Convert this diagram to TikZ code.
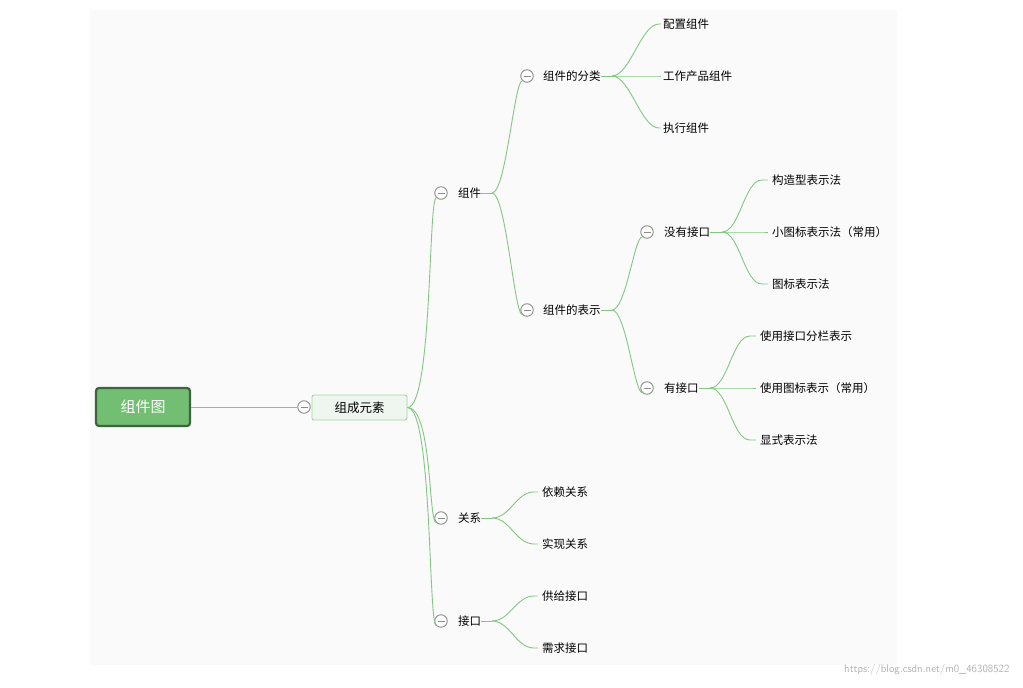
\documentclass[tikz,border=0pt]{standalone}
\usepackage{fontspec}
\newfontfamily\cjk{Noto Sans CJK SC}
\begin{document}
\begin{tikzpicture}[x=1pt,y=-1pt,font=\cjk\fontsize{11.5}{13}\selectfont,
  lbl/.style={anchor=west,inner sep=0pt},
  col/.style={circle,draw=black!45,fill=white,line width=0.9pt,minimum size=12.5pt,inner sep=0pt,
    path picture={\draw[black!45,line width=0.9pt] ([xshift=-3.5pt]path picture bounding box.center)--([xshift=3.5pt]path picture bounding box.center);}},
  br/.style={draw={rgb,255:red,130;green,200;blue,130},line width=0.9pt}]
\useasboundingbox (0,0) rectangle (1023,688);
\fill[white] (0,0) rectangle (1023,688);
\fill[black!2] (90,10) rectangle (897,665);
\node[draw={rgb,255:red,62;green,100;blue,62},line width=2.2pt,fill={rgb,255:red,114;green,190;blue,114},rounded corners=3pt,minimum width=94pt,minimum height=38pt,text=white,font=\cjk\fontsize{15}{17}\selectfont] (root) at (143,407) {组件图};
\node[draw={rgb,255:red,160;green,212;blue,160},line width=0.9pt,fill={rgb,255:red,239;green,246;blue,239},rounded corners=2pt,minimum width=95pt,minimum height=25pt,font=\cjk\fontsize{12.5}{14}\selectfont] (zc) at (359.5,407.5) {组成元素};
\node[col] (czc) at (304,407) {};
\draw[br] (root.east) -- (czc.west);
% level 2
\node[col] (c1) at (441,193) {}; \node[lbl] (t1) at (458,193) {组件};
\node[col] (c2) at (441,518) {}; \node[lbl] (t2) at (458,518) {关系};
\node[col] (c3) at (441,621) {}; \node[lbl] (t3) at (458,621) {接口};
\coordinate (z) at (zc.east);
\foreach \c in {c1,c2,c3} \draw[br] (z) .. controls +(25,0) and +(-8,0) .. (\c.south west);
% 组件
\coordinate (f1) at (492,193);
\node[col] (c11) at (527,76) {}; \node[lbl] (t11) at (543,76) {组件的分类};
\node[col] (c12) at (527,310) {}; \node[lbl] (t12) at (543,310) {组件的表示};
\draw[br] (t1.east) -- (f1);
\foreach \c in {c11,c12} \draw[br] (f1) .. controls +(14,0) and +(-8,0) .. (\c.south west);
% 分类
\coordinate (f11) at (612,76);
\draw[br] (t11.east) -- (f11);
\foreach \y/\t in {24/配置组件,76/工作产品组件,128/执行组件}{
  \node[lbl] (l) at (663,\y) {\t};
  \draw[br] (f11) .. controls +(18,0) and +(-18,0) .. ([xshift=-4pt,yshift=-0pt]l.west) -- ([xshift=-2pt]l.west);}
% 表示
\coordinate (f12) at (612,310);
\draw[br] (t12.east) -- (f12);
\node[col] (c121) at (647,232) {}; \node[lbl] (t121) at (664,232) {没有接口};
\node[col] (c122) at (647,388) {}; \node[lbl] (t122) at (664,388) {有接口};
\foreach \c in {c121,c122} \draw[br] (f12) .. controls +(14,0) and +(-8,0) .. (\c.south west);
\coordinate (f121) at (722,232);
\draw[br] (t121.east) -- (f121);
\foreach \y/\t in {180/构造型表示法,232/小图标表示法（常用）,284/图标表示法}{
  \node[lbl] (l) at (772,\y) {\t};
  \draw[br] (f121) .. controls +(18,0) and +(-18,0) .. ([xshift=-10pt]l.west) -- ([xshift=-4pt]l.west);}
\coordinate (f122) at (710,388);
\draw[br] (t122.east) -- (f122);
\foreach \y/\t in {336/使用接口分栏表示,388/使用图标表示（常用）,440/显式表示法}{
  \node[lbl] (l) at (760,\y) {\t};
  \draw[br] (f122) .. controls +(18,0) and +(-18,0) .. ([xshift=-10pt]l.west) -- ([xshift=-4pt]l.west);}
% 关系
\coordinate (f2) at (492,518);
\draw[br] (t2.east) -- (f2);
\foreach \y/\t in {492/依赖关系,544/实现关系}{
  \node[lbl] (l) at (542,\y) {\t};
  \draw[br] (f2) .. controls +(18,0) and +(-18,0) .. ([xshift=-8pt]l.west) -- ([xshift=-4pt]l.west);}
% 接口
\coordinate (f3) at (492,621);
\draw[br] (t3.east) -- (f3);
\foreach \y/\t in {596/供给接口,648/需求接口}{
  \node[lbl] (l) at (542,\y) {\t};
  \draw[br] (f3) .. controls +(18,0) and +(-18,0) .. ([xshift=-8pt]l.west) -- ([xshift=-4pt]l.west);}
\node[anchor=east,text=black!30,font=\fontsize{11}{12}\selectfont\sffamily] (wm) at (1013,670) {https://blog.csdn.net/m0\_46308522};
\end{tikzpicture}
\end{document}
